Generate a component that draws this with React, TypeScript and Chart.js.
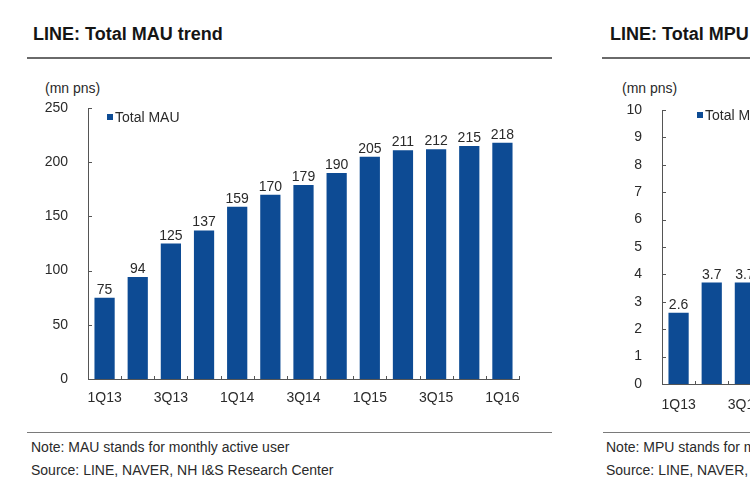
import React, { useEffect, useRef } from "react";
import { Chart, registerables } from "chart.js";

Chart.register(...registerables);

// ---------- data ----------
const quarters = ["1Q13", "2Q13", "3Q13", "4Q13", "1Q14", "2Q14", "3Q14", "4Q14", "1Q15", "2Q15", "3Q15", "4Q15", "1Q16"];
const mauValues = [75, 94, 125, 137, 159, 170, 179, 190, 205, 211, 212, 215, 218];
const mauTicks = [0, 50, 100, 150, 200, 250];
// only the first three MPU bars are visible in the reference (the rest is cut off)
const mpuValues: (number | null)[] = [2.6, 3.7, 3.7, null, null, null, null, null, null, null, null, null, null];
const mpuTicks = [0, 1, 2, 3, 4, 5, 6, 7, 8, 9, 10];

const FONT = "'Liberation Sans', Arial, sans-serif";
const BAR = "#0d4b94";
const AXIS = "#555555";
const TEXT = "#2a2a2a";

const decorPlugin = {
  id: "decor",
  afterDatasetsDraw(chart: any, _args: any, opts: any) {
    const { ctx, chartArea, scales } = chart;
    const xs = scales.x;
    const ys = scales.y;
    ctx.save();
    ctx.strokeStyle = AXIS;
    ctx.lineWidth = 1;
    ctx.beginPath();
    ys.ticks.forEach((t: any) => {
      const py = Math.round(ys.getPixelForValue(t.value)) + 0.5;
      ctx.moveTo(chartArea.left, py);
      ctx.lineTo(chartArea.left + 4, py);
    });
    const n = chart.data.labels.length;
    for (let i = 0; i <= n; i++) {
      const px = Math.round(xs.left + ((xs.right - xs.left) * i) / n) + 0.5;
      ctx.moveTo(px, chartArea.bottom + 1);
      ctx.lineTo(px, chartArea.bottom - 3);
    }
    ctx.stroke();

    // value labels
    const ds = chart.data.datasets[0];
    const meta = chart.getDatasetMeta(0);
    ctx.font = `14px ${FONT}`;
    ctx.fillStyle = TEXT;
    ctx.textAlign = "center";
    ctx.textBaseline = "alphabetic";
    meta.data.forEach((bar: any, i: number) => {
      const v = ds.data[i];
      if (v == null) return;
      ctx.fillText(String(v), bar.x, bar.y - 4);
    });

    // legend
    const lx = chartArea.left + opts.legendDx;
    const ly = chartArea.top + opts.legendDy;
    ctx.fillStyle = BAR;
    ctx.fillRect(lx, ly - 3, 6, 6);
    ctx.fillStyle = TEXT;
    ctx.textAlign = "left";
    ctx.textBaseline = "middle";
    ctx.fillText(ds.label, lx + 8, ly + 1);
    ctx.restore();
  },
};

function makeConfig(
  label: string,
  values: (number | null)[],
  ticks: number[],
  padTop: number,
  xHeight: number,
  legendDx: number,
  legendDy: number,
  xPad: number
): any {
  return {
    type: "bar",
    data: {
      labels: quarters,
      datasets: [
        {
          label,
          data: values,
          backgroundColor: BAR,
          borderWidth: 0,
          barPercentage: 0.61,
          categoryPercentage: 1,
        },
      ],
    },
    options: {
      responsive: false,
      animation: false,
      layout: { padding: { top: padTop, right: 41, left: 0, bottom: 0 } },
      plugins: {
        legend: { display: false },
        tooltip: { enabled: false },
        decor: { legendDx, legendDy },
      },
      scales: {
        x: {
          grid: { display: false, drawTicks: false },
          border: { display: true, color: AXIS, width: 1 },
          ticks: {
            autoSkip: false,
            maxRotation: 0,
            padding: xPad,
            color: TEXT,
            font: { family: FONT, size: 14 },
            callback: (_v: any, i: number) => (i % 2 === 0 ? quarters[i] : ""),
          },
          afterFit: (s: any) => {
            s.height = xHeight;
            s.paddingLeft = 0;
            s.paddingRight = 0;
          },
        },
        y: {
          min: ticks[0],
          max: ticks[ticks.length - 1],
          grid: { display: false, drawTicks: false },
          border: { display: true, color: AXIS, width: 1 },
          ticks: {
            stepSize: ticks[1] - ticks[0],
            padding: 20,
            color: TEXT,
            font: { family: FONT, size: 14 },
          },
          afterFit: (s: any) => {
            s.width = 88;
            s.paddingTop = 0;
            s.paddingBottom = 0;
          },
        },
      },
    },
    plugins: [decorPlugin],
  };
}

function BarChart(props: { config: any; style: React.CSSProperties }) {
  const ref = useRef<HTMLCanvasElement | null>(null);
  useEffect(() => {
    if (!ref.current) return;
    const chart = new Chart(ref.current, props.config);
    return () => chart.destroy();
  }, []);
  return <canvas ref={ref} width={560} height={330} style={{ position: "absolute", ...props.style }} />;
}

const abs = (s: React.CSSProperties): React.CSSProperties => ({ position: "absolute", whiteSpace: "nowrap", ...s });

export default function App() {
  // left chart: canvas top 90 -> plot top 108, plot bottom 379
  const mauConfig = makeConfig("Total MAU", mauValues, mauTicks, 18, 41, 19, 9, 11);
  // right chart: canvas top 90 -> plot top 110, plot bottom 384
  const mpuConfig = makeConfig("Total MPU", mpuValues, mpuTicks, 20, 36, 35, 5, 13);
  return (
    <div
      style={{
        position: "fixed",
        left: 0,
        top: 0,
        width: 750,
        height: 495,
        overflow: "hidden",
        background: "#ffffff",
        fontFamily: FONT,
        color: TEXT,
      }}
    >
      {/* left panel */}
      <div style={abs({ left: 33, top: 24, fontSize: 18, lineHeight: "20px", fontWeight: "bold", color: "#151515" })}>
        LINE: Total MAU trend
      </div>
      <div style={abs({ left: 27, top: 57, width: 525, height: 2, background: "#6a6a6a" })} />
      <div style={abs({ left: 45, top: 80, fontSize: 14, lineHeight: "16px" })}>(mn pns)</div>
      <BarChart config={mauConfig} style={{ left: 0, top: 90 }} />
      <div style={abs({ left: 27, top: 432, width: 525, height: 1, background: "#7a7a7a" })} />
      <div style={abs({ left: 31, top: 436, fontSize: 14, lineHeight: "23px" })}>
        Note: MAU stands for monthly active user
        <br />
        Source: LINE, NAVER, NH I&amp;S Research Center
      </div>

      {/* right panel (cut off by the frame) */}
      <div style={abs({ left: 610, top: 24, fontSize: 18, lineHeight: "20px", fontWeight: "bold", color: "#151515" })}>
        LINE: Total MPU trend
      </div>
      <div style={abs({ left: 602, top: 57, width: 525, height: 2, background: "#6a6a6a" })} />
      <div style={abs({ left: 622, top: 80, fontSize: 14, lineHeight: "16px" })}>(mn pns)</div>
      <BarChart config={mpuConfig} style={{ left: 574, top: 90 }} />
      <div style={abs({ left: 603, top: 432, width: 525, height: 1, background: "#7a7a7a" })} />
      <div style={abs({ left: 606, top: 436, fontSize: 14, lineHeight: "23px" })}>
        Note: MPU stands for monthly paying user
        <br />
        Source: LINE, NAVER, NH I&amp;S Research Center
      </div>
    </div>
  );
}
